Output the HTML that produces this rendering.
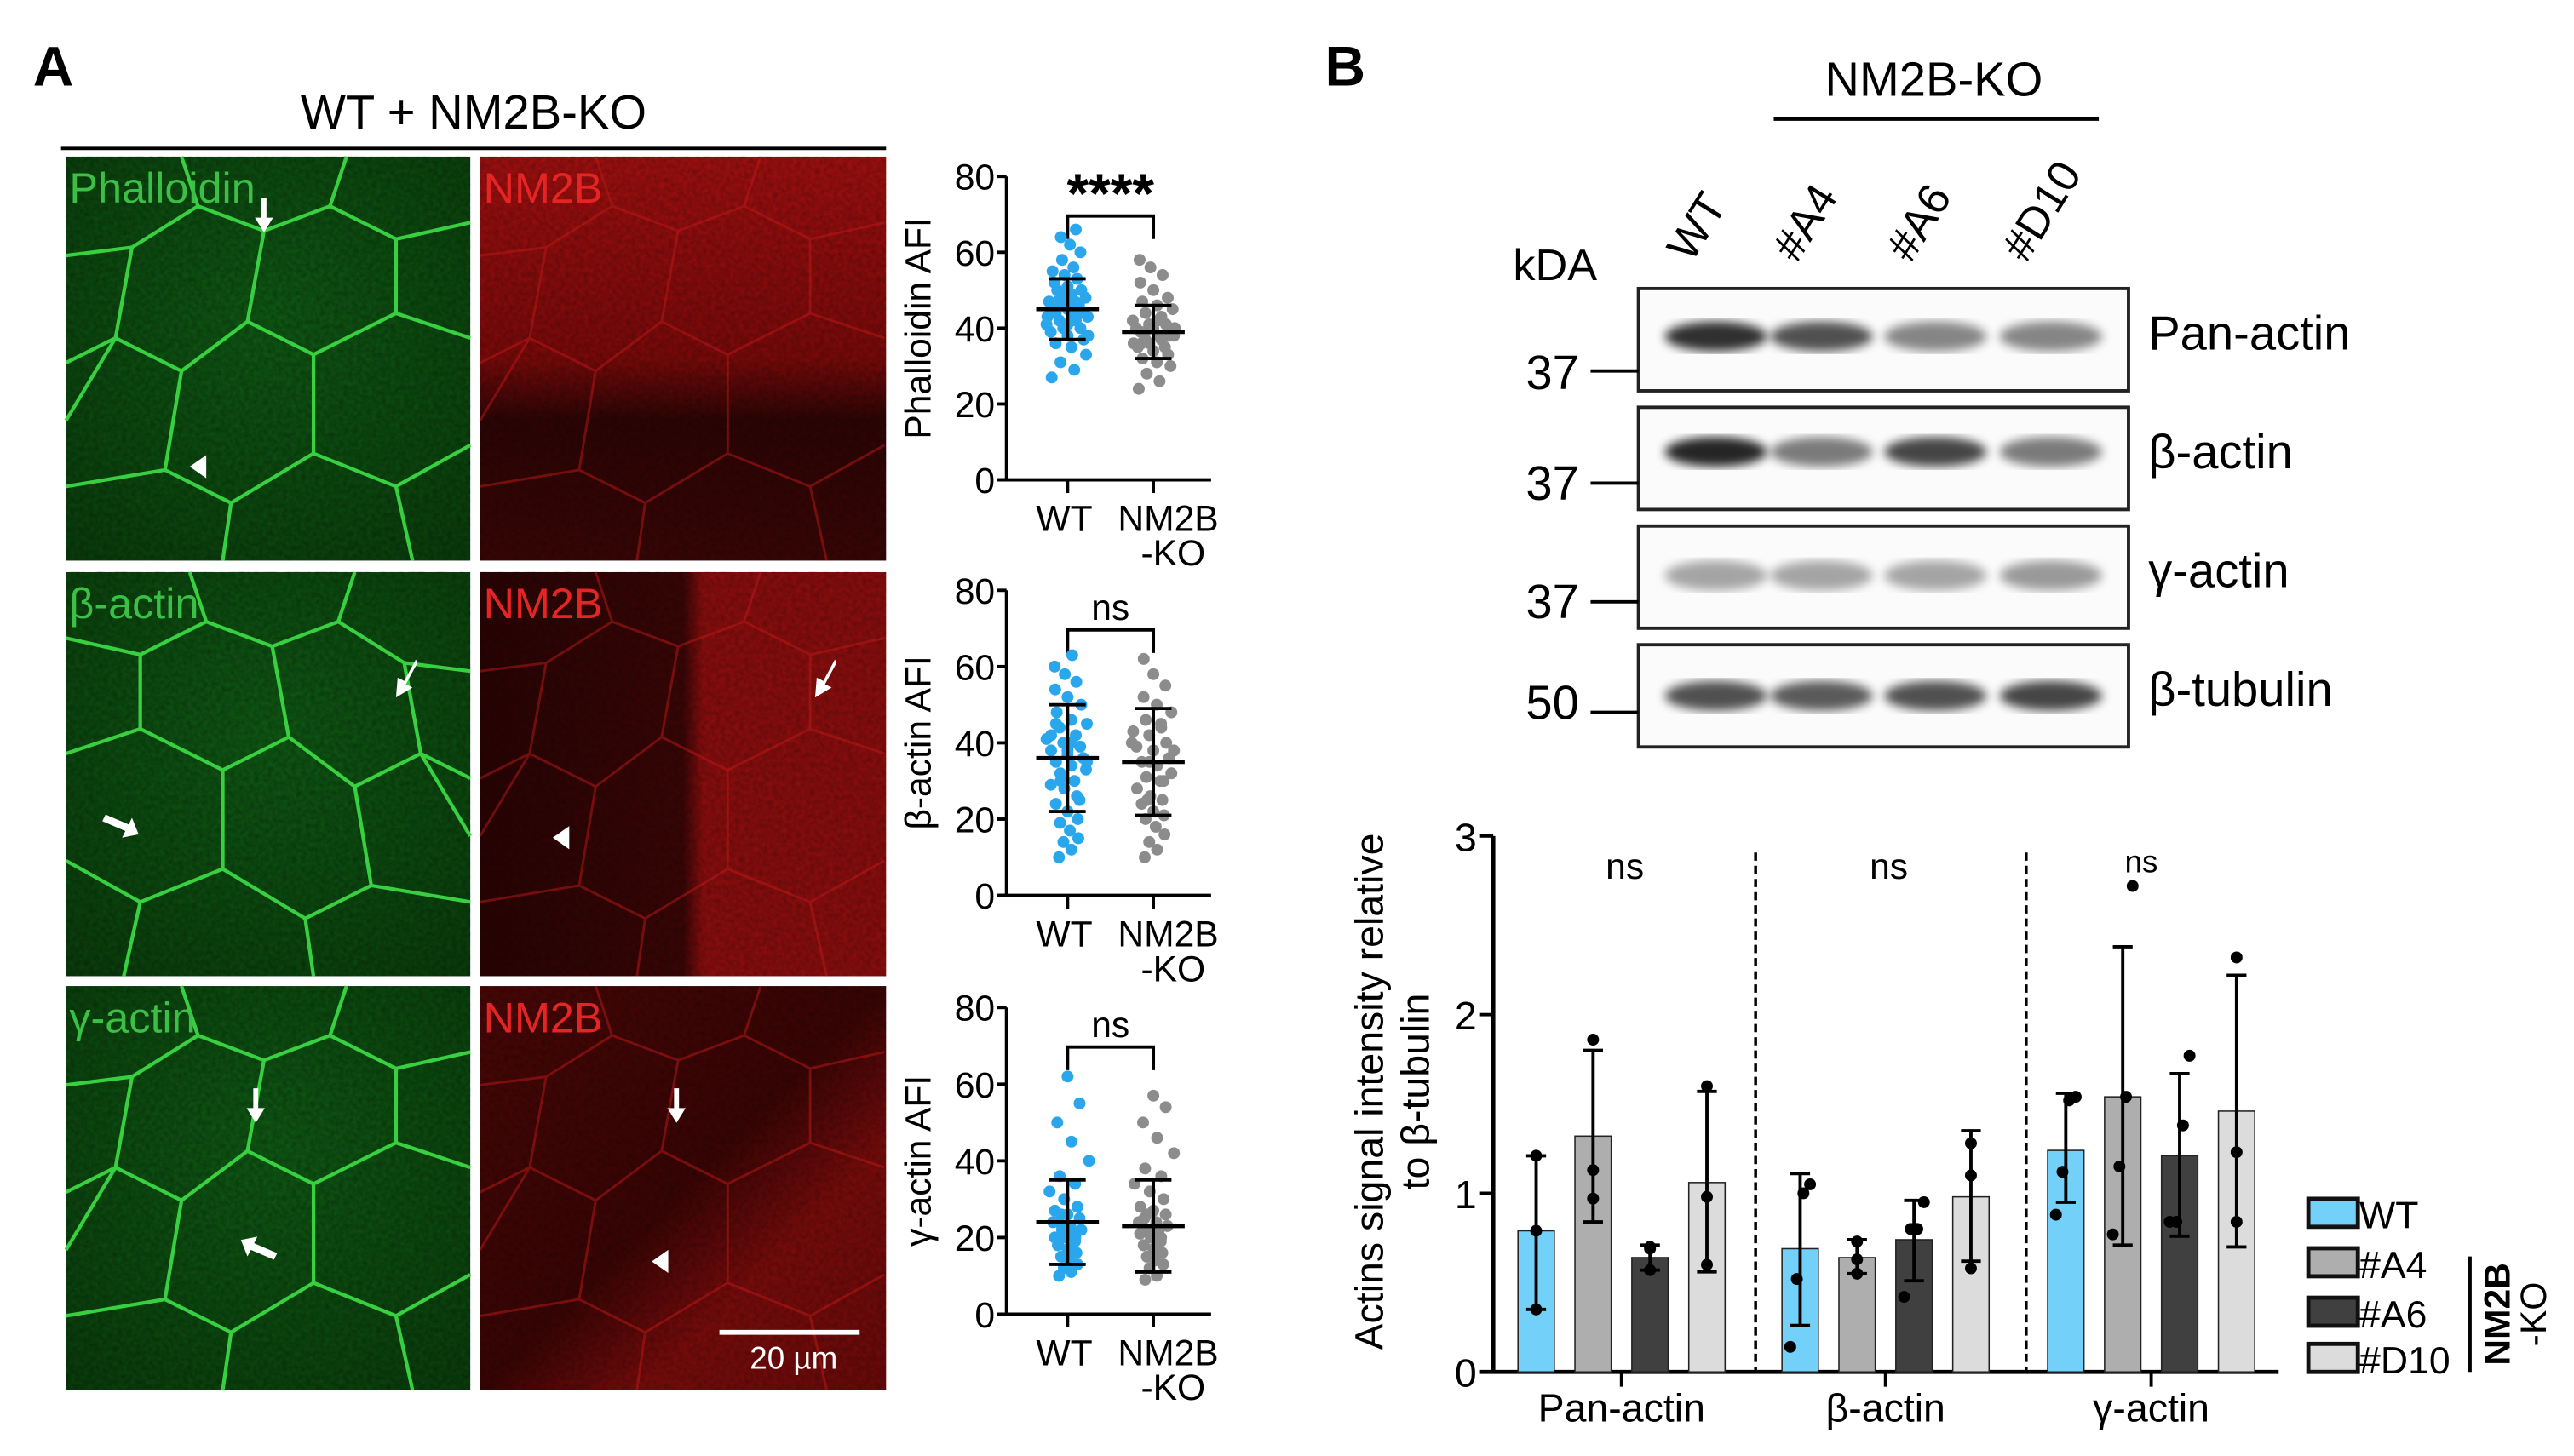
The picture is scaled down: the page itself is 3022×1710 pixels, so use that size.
<!DOCTYPE html>
<html><head><meta charset="utf-8"><style>
html,body{margin:0;padding:0;background:#fff;}
svg{display:block;font-family:"Liberation Sans",Arial,sans-serif;}
</style></head><body>
<svg id="fig" width="3022" height="1710" viewBox="0 0 1560 883" preserveAspectRatio="none" xmlns="http://www.w3.org/2000/svg">
<defs>
<filter id="tex" x="0" y="0" width="1" height="1"><feTurbulence type="fractalNoise" baseFrequency="0.35" numOctaves="2" seed="3"/><feColorMatrix values="0 0 0 0 0  0 0 0 0 0  0 0 0 0 0  0 0 0 -1.2 1"/></filter>
<filter id="blur2"><feGaussianBlur stdDeviation="3"/></filter>
<radialGradient id="gG" cx="0.5" cy="0.4" r="0.8"><stop offset="0" stop-color="#0f5a14"/><stop offset="1" stop-color="#0a3c0c"/></radialGradient>
<linearGradient id="rG1" x1="0" y1="0" x2="0" y2="1"><stop offset="0" stop-color="#a01010"/><stop offset="0.5" stop-color="#7a0a0a"/><stop offset="0.65" stop-color="#2e0505"/><stop offset="1" stop-color="#3a0606"/></linearGradient>
<linearGradient id="rG2" x1="0" y1="0" x2="1" y2="0"><stop offset="0" stop-color="#2a0404"/><stop offset="0.5" stop-color="#3a0606"/><stop offset="0.55" stop-color="#8a0e0e"/><stop offset="1" stop-color="#8a0e0e"/></linearGradient>
<linearGradient id="rG3" x1="0" y1="0" x2="1" y2="1"><stop offset="0" stop-color="#4a0707"/><stop offset="0.5" stop-color="#3a0505"/><stop offset="0.7" stop-color="#7a0c0c"/><stop offset="1" stop-color="#6a0a0a"/></linearGradient>
<path id="net" d="M0,60 L40,55 L80,30 L120,45 L160,30 L200,50 L245,40 M80,30 L70,0 M160,30 L170,0 M40,55 L30,110 L70,130 L110,100 L120,45 M110,100 L150,120 L200,95 L200,50 M200,95 L245,110 M30,110 L0,125 M70,130 L60,190 L100,210 L150,180 L150,120 M150,180 L200,200 L245,175 M60,190 L0,200 M100,210 L95,245 M200,200 L210,245 M0,160 L30,110"/>
</defs>
<rect width="1560" height="883" fill="#fff"/>

<text x="20" y="52" font-size="34" font-weight="bold">A</text>
<text x="287" y="78" font-size="29" text-anchor="middle">WT + NM2B-KO</text>
<line x1="37" y1="90" x2="537" y2="90" stroke="#000" stroke-width="2"/>

<g id="micros"></g>
<g id="scatters"></g>

<text x="803" y="52" font-size="34" font-weight="bold">B</text>
<text x="1172" y="58" font-size="29" text-anchor="middle">NM2B-KO</text>
<line x1="1075" y1="72" x2="1272" y2="72" stroke="#000" stroke-width="2.5"/>
<text x="917" y="170" font-size="27">kDA</text>
<g id="blots"></g>
<g id="bars"></g>
</svg>
<script>
const NS='http://www.w3.org/2000/svg';
const svg=document.getElementById('fig');
function mk(tag,attrs,parent,text){const e=document.createElementNS(NS,tag);for(const k in attrs)e.setAttribute(k,attrs[k]);if(text!==undefined)e.textContent=text;(parent||svg).appendChild(e);return e;}

/* ---------- scatter data (AFI) ---------- */
const scatterTitles=['Phalloidin AFI','β-actin AFI','γ-actin AFI'];
const scatterSig=['****','ns','ns'];
const scatterCats=['WT','NM2B'];
const wtMean=[45,36,24], wtSD=[8,14,11];
const koMean=[39,35,23], koSD=[7,14,12];
const wtPts1=[27,29,31,33,35,36,37,38,39,40,40,41,42,42,43,43,44,44,45,45,46,46,47,47,48,48,49,50,50,51,52,53,54,55,56,58,60,62,64,66,41,44,46,49,43,45,47,38];
const koPts1=[24,26,28,30,31,32,33,34,35,35,36,36,37,37,38,38,39,39,40,40,41,41,42,43,44,45,46,47,48,50,52,54,56,58,37,39,40,42,36,38];
const wtPts2=[10,12,14,15,17,19,20,22,24,26,28,29,30,32,33,34,35,36,37,38,39,40,41,42,44,45,46,48,50,52,54,56,58,60,63,30,35,40,45,25,38,42];
const koPts2=[10,12,14,16,18,20,21,22,24,25,26,28,30,31,32,34,35,36,38,39,40,42,43,44,46,48,50,52,55,58,62,30,35,40,45,25,38];
const wtPts3=[10,11,12,13,14,15,16,17,18,19,20,20,21,22,22,23,24,25,26,27,28,30,32,34,36,40,45,50,55,62,18,20,22,24,16,26];
const koPts3=[9,10,12,13,14,15,16,17,18,19,20,21,22,22,23,24,25,26,27,28,30,32,34,36,38,42,46,50,54,57,18,20,22,24,16,26];
const wtPts=[wtPts1,wtPts2,wtPts3], koPts=[koPts1,koPts2,koPts3];
const scTicks=[0,20,40,60,80];

/* ---------- micrographs ---------- */
const mg=document.getElementById('micros');
const rowsY=[95,347,598];
const greenLbl=['Phalloidin','β-actin','γ-actin'];
const redFills=['url(#rG1)','url(#rG2)','url(#rG3)'];
const arrows=[[[160,140,'d'],[120,283,'t']],[[243,418,'dl'],[80,500,'r'],[497,418,'dl'],[340,508,'t']],[[155,680,'d'],[150,758,'ur'],[410,680,'d'],[400,765,'t']]];
rowsY.forEach((y,i)=>{
  const g=mk('g',{},mg);
  
  
  mk('rect',{x:40,y:y,width:245,height:245,fill:'url(#gG)'},g);
  mk('rect',{x:40,y:y,width:245,height:245,fill:'#30c030',filter:'url(#tex)',opacity:0.35},g);
  mk('use',{href:'#net',x:40,y:y,fill:'none',stroke:'#38d040','stroke-width':2.2,transform:i==1?`translate(${40*2+245} 0) scale(-1 1)`:''},g);
  mk('text',{x:42,y:y+28,'font-size':26,fill:'#3bbf46'},g,greenLbl[i]);
  const r=mk('g',{},mg);
  
  
  mk('rect',{x:291,y:y,width:246,height:245,fill:redFills[i]},r);
  mk('rect',{x:291,y:y,width:246,height:245,fill:'#ff3030',filter:'url(#tex)',opacity:0.3},r);
  mk('use',{href:'#net',x:291,y:y,fill:'none',stroke:'#c01818','stroke-width':1.5,opacity:0.5},r);
  mk('text',{x:293,y:y+28,'font-size':26,fill:'#e52424'},r,'NM2B');
});
arrows.flat().forEach(a=>{
  const [x,y,t]=a;let p;
  if(t=='d')p=`M${x-1.5},${y-20} h3 v12 h4 l-5.5,9 l-5.5,-9 h4z`;
  else if(t=='t')p=`M${x+5},${y-7} v14 l-10,-7z`;
  else if(t=='r')p=`M${x-16},${y-6} l14,6 l2,-4 l4,10 l-10,2 l2,-4 l-14,-6z`;
  else if(t=='ur')p=`M${x+16},${y+6} l-14,-6 l-2,4 l-4,-10 l10,-2 l-2,4 l14,6z`;
  else p=`M${x+9},${y-18} l-7,13 l-4,-2 l-1,12 l10,-6 l-4,-2 l7,-13z`;
  const e=mk('path',{d:p,fill:'#fff'},mg);
  
  
});
mk('line',{x1:436,y1:808,x2:521,y2:808,stroke:'#fff','stroke-width':3},mg);
mk('text',{x:481,y:830,'font-size':19,fill:'#fff','text-anchor':'middle'},mg,'20 µm');

/* ---------- scatter plots ---------- */
const sg=document.getElementById('scatters');
const scTop=[107,358,611], scBot=[291,543,797];
for(let i=0;i<3;i++){
  const y0=scBot[i],y1=scTop[i],ax=610;
  const ys=v=>y0-(v/80)*(y0-y1);
  const xW=647,xK=699;
  const g=mk('g',{},sg);
  
  
  mk('line',{x1:ax,y1:y1,x2:ax,y2:y0+1,stroke:'#000','stroke-width':2},g);
  mk('line',{x1:ax-5,y1:y0,x2:734,y2:y0,stroke:'#000','stroke-width':2},g);
  scTicks.forEach(t=>{mk('line',{x1:ax-6,y1:ys(t),x2:ax,y2:ys(t),stroke:'#000','stroke-width':2},g);
    mk('text',{x:ax-7,y:ys(t)+8,'font-size':22,'text-anchor':'end'},g,t);});
  [xW,xK].forEach(x=>mk('line',{x1:x,y1:y0,x2:x,y2:y0+8,stroke:'#000','stroke-width':2},g));
  mk('text',{x:xW-2,y:y0+31,'font-size':22,'text-anchor':'middle'},g,scatterCats[0]);
  mk('text',{x:xK+9,y:y0+31,'font-size':22,'text-anchor':'middle'},g,scatterCats[1]);
  mk('text',{x:xK+12,y:y0+52,'font-size':22,'text-anchor':'middle'},g,'-KO');
  mk('text',{x:0,y:0,'font-size':22,'text-anchor':'middle',transform:`translate(564 ${(y0+y1)/2}) rotate(-90)`},g,scatterTitles[i]);
  const by=y1+24;
  mk('path',{d:`M${xW},${by+14} V${by} H${xK} V${by+14}`,fill:'none',stroke:'#000','stroke-width':2},g);
  mk('text',{x:(xW+xK)/2,y:i==0?by-2:by-6,'font-size':i==0?34:22,'font-weight':i==0?'bold':'normal','text-anchor':'middle'},g,scatterSig[i]);
  [[wtPts[i],xW,'#2aa7ec'],[koPts[i],xK,'#8c8c8c']].forEach(([pts,cx,col])=>{
    pts.forEach((v,k)=>{const off=((k*7)%11-5)*2.6*Math.max(0.2,1-Math.abs(v-40)/50);
      const c=mk('circle',{cx:cx+off,cy:ys(v),r:3.6,fill:col},g);
      
      });
  });
  [[wtMean[i],wtSD[i],xW],[koMean[i],koSD[i],xK]].forEach(([m,s,cx])=>{
    mk('line',{x1:cx,y1:ys(m-s),x2:cx,y2:ys(m+s),stroke:'#000','stroke-width':2},g);
    mk('line',{x1:cx-19,y1:ys(m),x2:cx+19,y2:ys(m),stroke:'#000','stroke-width':2.5},g);
    [m-s,m+s].forEach(v=>mk('line',{x1:cx-11,y1:ys(v),x2:cx+11,y2:ys(v),stroke:'#000','stroke-width':2},g));
  });
}

/* ---------- western blots ---------- */
const lanes=['WT','#A4','#A6','#D10'];
const blotNames=['Pan-actin','β-actin','γ-actin','β-tubulin'];
const mwLabels=['37','37','37','50'];
const bandInt=[[0.95,0.8,0.55,0.55],[1.0,0.6,0.85,0.6],[0.4,0.4,0.4,0.45],[0.8,0.75,0.8,0.85]];
const blotY=[175,247,319,391];
const lx=[1045,1109,1178,1248];
const bl=document.getElementById('blots');
lanes.forEach((l,k)=>{const t=mk('text',{x:0,y:0,'font-size':27,transform:`translate(${lx[k]-20} 160) rotate(-58)`},bl,l);
  });
blotY.forEach((y,i)=>{
  const g=mk('g',{},bl);
  
  
  mk('rect',{x:993,y:y,width:297,height:62,fill:'#fbfbfb',stroke:'#222','stroke-width':2},g);
  const by=y+(i==3?31:i==1?27:i==2?30:29);
  bandInt[i].forEach((v,k)=>{mk('ellipse',{cx:lx[k]-5,cy:by,rx:31,ry:9,fill:'#000',opacity:v*0.85,filter:'url(#blur2)'},g);});
  mk('text',{x:1302,y:y+37,'font-size':29},g,blotNames[i]);
  mk('text',{x:957,y:y+(i==3?45:i==0?61:56),'font-size':29,'text-anchor':'end'},g,mwLabels[i]);
  const ty=y+(i==3?41:i==0?50:46);
  mk('line',{x1:964,y1:ty,x2:993,y2:ty,stroke:'#000','stroke-width':2},g);
});

/* ---------- bar chart ---------- */
const groups=['Pan-actin','β-actin','γ-actin'];
const clones=['WT','#A4','#A6','#D10'];
const colors=['#73d1f9','#aeaeae','#404040','#dcdcdc'];
const barMean=[[0.79,1.32,0.64,1.06],[0.69,0.64,0.74,0.98],[1.24,1.54,1.21,1.46]];
const errLo=[[0.35,0.84,0.57,0.56],[0.26,0.55,0.51,0.62],[0.95,0.71,0.76,0.70]];
const errHi=[[1.21,1.80,0.71,1.57],[1.11,0.74,0.96,1.35],[1.56,2.38,1.67,2.22]];
const dotsPan=[[0.35,0.79,1.21],[0.97,1.13,1.86],[0.57,0.70,0.69],[0.60,0.98,1.60]];
const dotsBeta=[[0.14,0.52,1.00,1.05],[0.55,0.63,0.73],[0.42,0.80,0.80,0.95],[0.58,1.10,1.28]];
const dotsGamma=[[0.88,1.12,1.52,1.54],[0.77,1.15,1.54,2.72],[0.84,0.84,1.38,1.77],[0.84,1.23,2.32]];
const dots=[dotsPan,dotsBeta,dotsGamma];
const yTicks=[0,1,2,3];
const bg=document.getElementById('bars');
const X0=905,Y0=832,Y3=507;
const yb=v=>Y0-v/3*(Y0-Y3);
const groupStart=[931,1091,1252], step=34.5, bw=22;
mk('line',{x1:X0,y1:Y3,x2:X0,y2:Y0+1,stroke:'#000','stroke-width':2.5},bg);
mk('line',{x1:X0-8,y1:Y0,x2:1381,y2:Y0,stroke:'#000','stroke-width':2.5},bg);
yTicks.forEach(t=>{mk('line',{x1:X0-8,y1:yb(t),x2:X0,y2:yb(t),stroke:'#000','stroke-width':2},bg);
  mk('text',{x:X0-10,y:yb(t)+9,'font-size':24,'text-anchor':'end'},bg,t);});
mk('text',{x:0,y:0,'font-size':24,'text-anchor':'middle',transform:`translate(838 662) rotate(-90)`},bg,'Actins signal intensity relative');
mk('text',{x:0,y:0,'font-size':24,'text-anchor':'middle',transform:`translate(866 662) rotate(-90)`},bg,'to β-tubulin');
[1064,1228].forEach(x=>mk('line',{x1:x,y1:517,x2:x,y2:Y0,stroke:'#000','stroke-width':1.8,'stroke-dasharray':'5 3'},bg));
groups.forEach((gname,gi)=>{
  const cx=groupStart[gi]+step*1.5;
  mk('line',{x1:cx,y1:Y0,x2:cx,y2:Y0+9,stroke:'#000','stroke-width':2},bg);
  mk('text',{x:cx,y:Y0+30,'font-size':24,'text-anchor':'middle'},bg,gname);
  mk('text',{x:gi==2?cx-6:cx+2,y:gi==2?529:533,'font-size':gi==2?19:22,'text-anchor':'middle'},bg,'ns');
  clones.forEach((c,k)=>{
    const x=groupStart[gi]+k*step;
    const r=mk('rect',{x:x-bw/2,y:yb(barMean[gi][k]),width:bw,height:Y0-yb(barMean[gi][k]),fill:colors[k],stroke:'#222','stroke-width':0.8},bg);
    
    
    mk('line',{x1:x,y1:yb(errLo[gi][k]),x2:x,y2:yb(errHi[gi][k]),stroke:'#000','stroke-width':2},bg);
    [errLo[gi][k],errHi[gi][k]].forEach(v=>mk('line',{x1:x-6,y1:yb(v),x2:x+6,y2:yb(v),stroke:'#000','stroke-width':2},bg));
    dots[gi][k].forEach((v,j)=>{const n=dots[gi][k].length;const off=n>3?[-12,-4,4,12][j]*0.5:0;
      const d=mk('circle',{cx:x+off,cy:yb(v),r:3.6,fill:'#000'},bg);
      
      });
  });
});
const legY=[727,757,787,815];
clones.forEach((c,k)=>{
  const g=mk('g',{},bg);
  
  
  mk('rect',{x:1399,y:legY[k],width:30,height:17,fill:colors[k],stroke:'#111','stroke-width':2.5},g);
  mk('text',{x:1430,y:legY[k]+18,'font-size':23},g,c);
});
mk('line',{x1:1497,y1:762,x2:1497,y2:832,stroke:'#000','stroke-width':2},bg);
mk('text',{x:0,y:0,'font-size':22,'font-weight':'bold','text-anchor':'middle',transform:'translate(1521 797) rotate(-90)'},bg,'NM2B');
mk('text',{x:0,y:0,'font-size':22,'text-anchor':'middle',transform:'translate(1543 797) rotate(-90)'},bg,'-KO');
</script>
</body></html>
